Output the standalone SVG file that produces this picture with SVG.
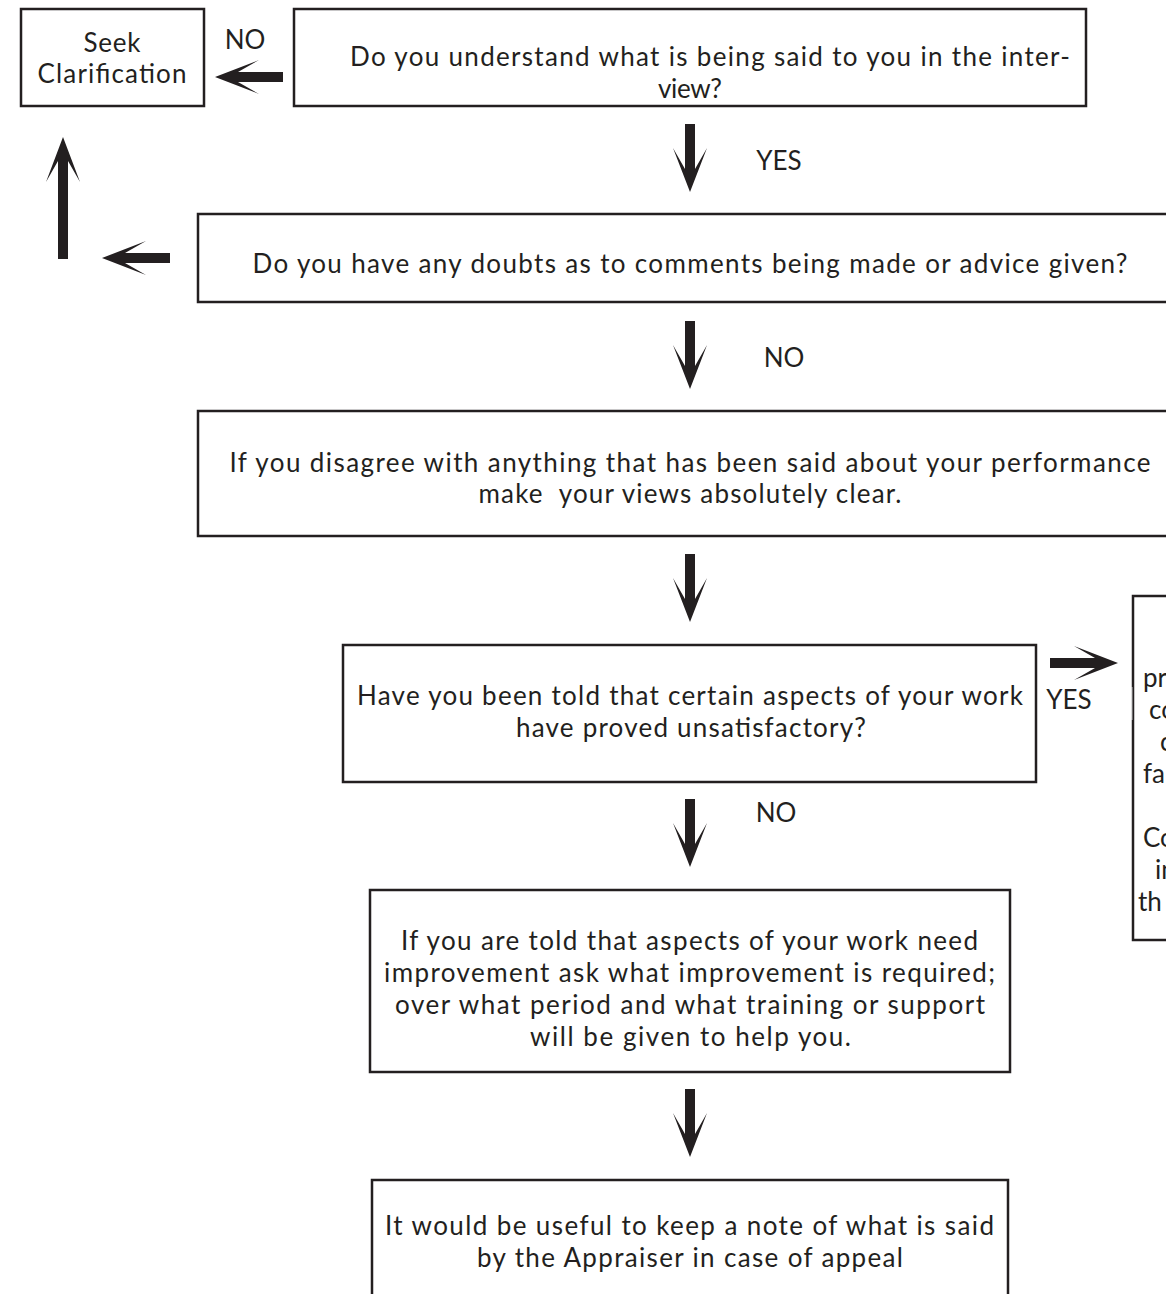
<svg xmlns="http://www.w3.org/2000/svg" xmlns:xlink="http://www.w3.org/1999/xlink" width="1166" height="1294" viewBox="0 0 1166 1294">
<style>
.box{fill:#fff;stroke:#231f20;stroke-width:2.5}
.t{font-family:Lato,"Open Sans",sans-serif;font-size:26px;fill:#231f20;text-anchor:middle}
.ts{font-family:Lato,"Open Sans",sans-serif;font-size:26px;fill:#231f20}
.arrow{fill:#231f20}
</style>
<defs>
<path id="arr" d="M-5,-68 L5,-68 L5,-23 L17,-44 L0,0 L-17,-44 L-5,-23 Z"/>
</defs>
<rect width="1166" height="1294" fill="#fff"/>
<g id="seek">
<rect class="box" x="21" y="9" width="183" height="97"/>
<text class="t" x="112" y="52" textLength="57" lengthAdjust="spacing">Seek</text>
<text class="t" x="112" y="83" textLength="149" lengthAdjust="spacing">Clarification</text>
</g>
<g id="understand">
<rect class="box" x="294" y="9" width="792" height="97"/>
<text class="t" x="710" y="66" textLength="720" lengthAdjust="spacing">Do you understand what is being said to you in the inter-</text>
<text class="t" x="690" y="98" textLength="64" lengthAdjust="spacing">view?</text>
</g>
<g id="doubts">
<rect class="box" x="198" y="214" width="980" height="88"/>
<text class="t" x="690" y="273" textLength="875" lengthAdjust="spacing">Do you have any doubts as to comments being made or advice given?</text>
</g>
<g id="disagree">
<rect class="box" x="198" y="411" width="980" height="125"/>
<text class="t" x="690" y="472" textLength="921" lengthAdjust="spacing">If you disagree with anything that has been said about your performance</text>
<text class="t" x="690" y="503" xml:space="preserve" textLength="423" lengthAdjust="spacing">make  your views absolutely clear.</text>
</g>
<g id="unsatisfactory">
<rect class="box" x="343" y="645" width="693" height="137"/>
<text class="t" x="690" y="705" textLength="666" lengthAdjust="spacing">Have you been told that certain aspects of your work</text>
<text class="t" x="691" y="737" textLength="350" lengthAdjust="spacing">have proved unsatisfactory?</text>
</g>
<g id="side">
<rect class="box" x="1133" y="596" width="60" height="344"/>
<rect x="1128" y="687" width="4" height="33" fill="#fff"/>
<line x1="1132" y1="687" x2="1132" y2="720" stroke="#bbb" stroke-width="1"/>
<text class="ts" x="1143" y="687">pr</text>
<text class="ts" x="1149" y="719">co</text>
<text class="ts" x="1160" y="751">c</text>
<text class="ts" x="1143" y="783">fa</text>
<text class="ts" x="1143" y="847">Co</text>
<text class="ts" x="1155" y="879">in</text>
<text class="ts" x="1138" y="911">th</text>
</g>
<g id="improvement">
<rect class="box" x="370" y="890" width="640" height="182"/>
<text class="t" x="689.5" y="950" textLength="577" lengthAdjust="spacing">If you are told that aspects of your work need</text>
<text class="t" x="689.5" y="982" textLength="611" lengthAdjust="spacing">improvement ask what improvement is required;</text>
<text class="t" x="690" y="1014" textLength="590" lengthAdjust="spacing">over what period and what training or support</text>
<text class="t" x="690.5" y="1046" textLength="321" lengthAdjust="spacing">will be given to help you.</text>
</g>
<g id="note">
<rect class="box" x="372" y="1180" width="636" height="130"/>
<text class="t" x="689.5" y="1235" textLength="609" lengthAdjust="spacing">It would be useful to keep a note of what is said</text>
<text class="t" x="690" y="1267" textLength="426" lengthAdjust="spacing">by the Appraiser in case of appeal</text>
</g>
<g id="connectors" class="arrow">
<use xlink:href="#arr" transform="translate(215,77) rotate(90)"/>
<use xlink:href="#arr" transform="translate(690,192)"/>
<use xlink:href="#arr" transform="translate(102,258) rotate(90)"/>
<path d="M58,259 L68,259 L68,161 L80,182 L63,137 L46,182 L58,161 Z"/>
<use xlink:href="#arr" transform="translate(690,389)"/>
<use xlink:href="#arr" transform="translate(690,622)"/>
<use xlink:href="#arr" transform="translate(1118,663) rotate(-90)"/>
<use xlink:href="#arr" transform="translate(690,867)"/>
<use xlink:href="#arr" transform="translate(690,1157)"/>
<text class="t" x="245" y="49">NO</text>
<text class="t" x="779" y="170">YES</text>
<text class="t" x="784" y="367">NO</text>
<text class="t" x="1069" y="709">YES</text>
<text class="t" x="776" y="822">NO</text>
</g>
</svg>
